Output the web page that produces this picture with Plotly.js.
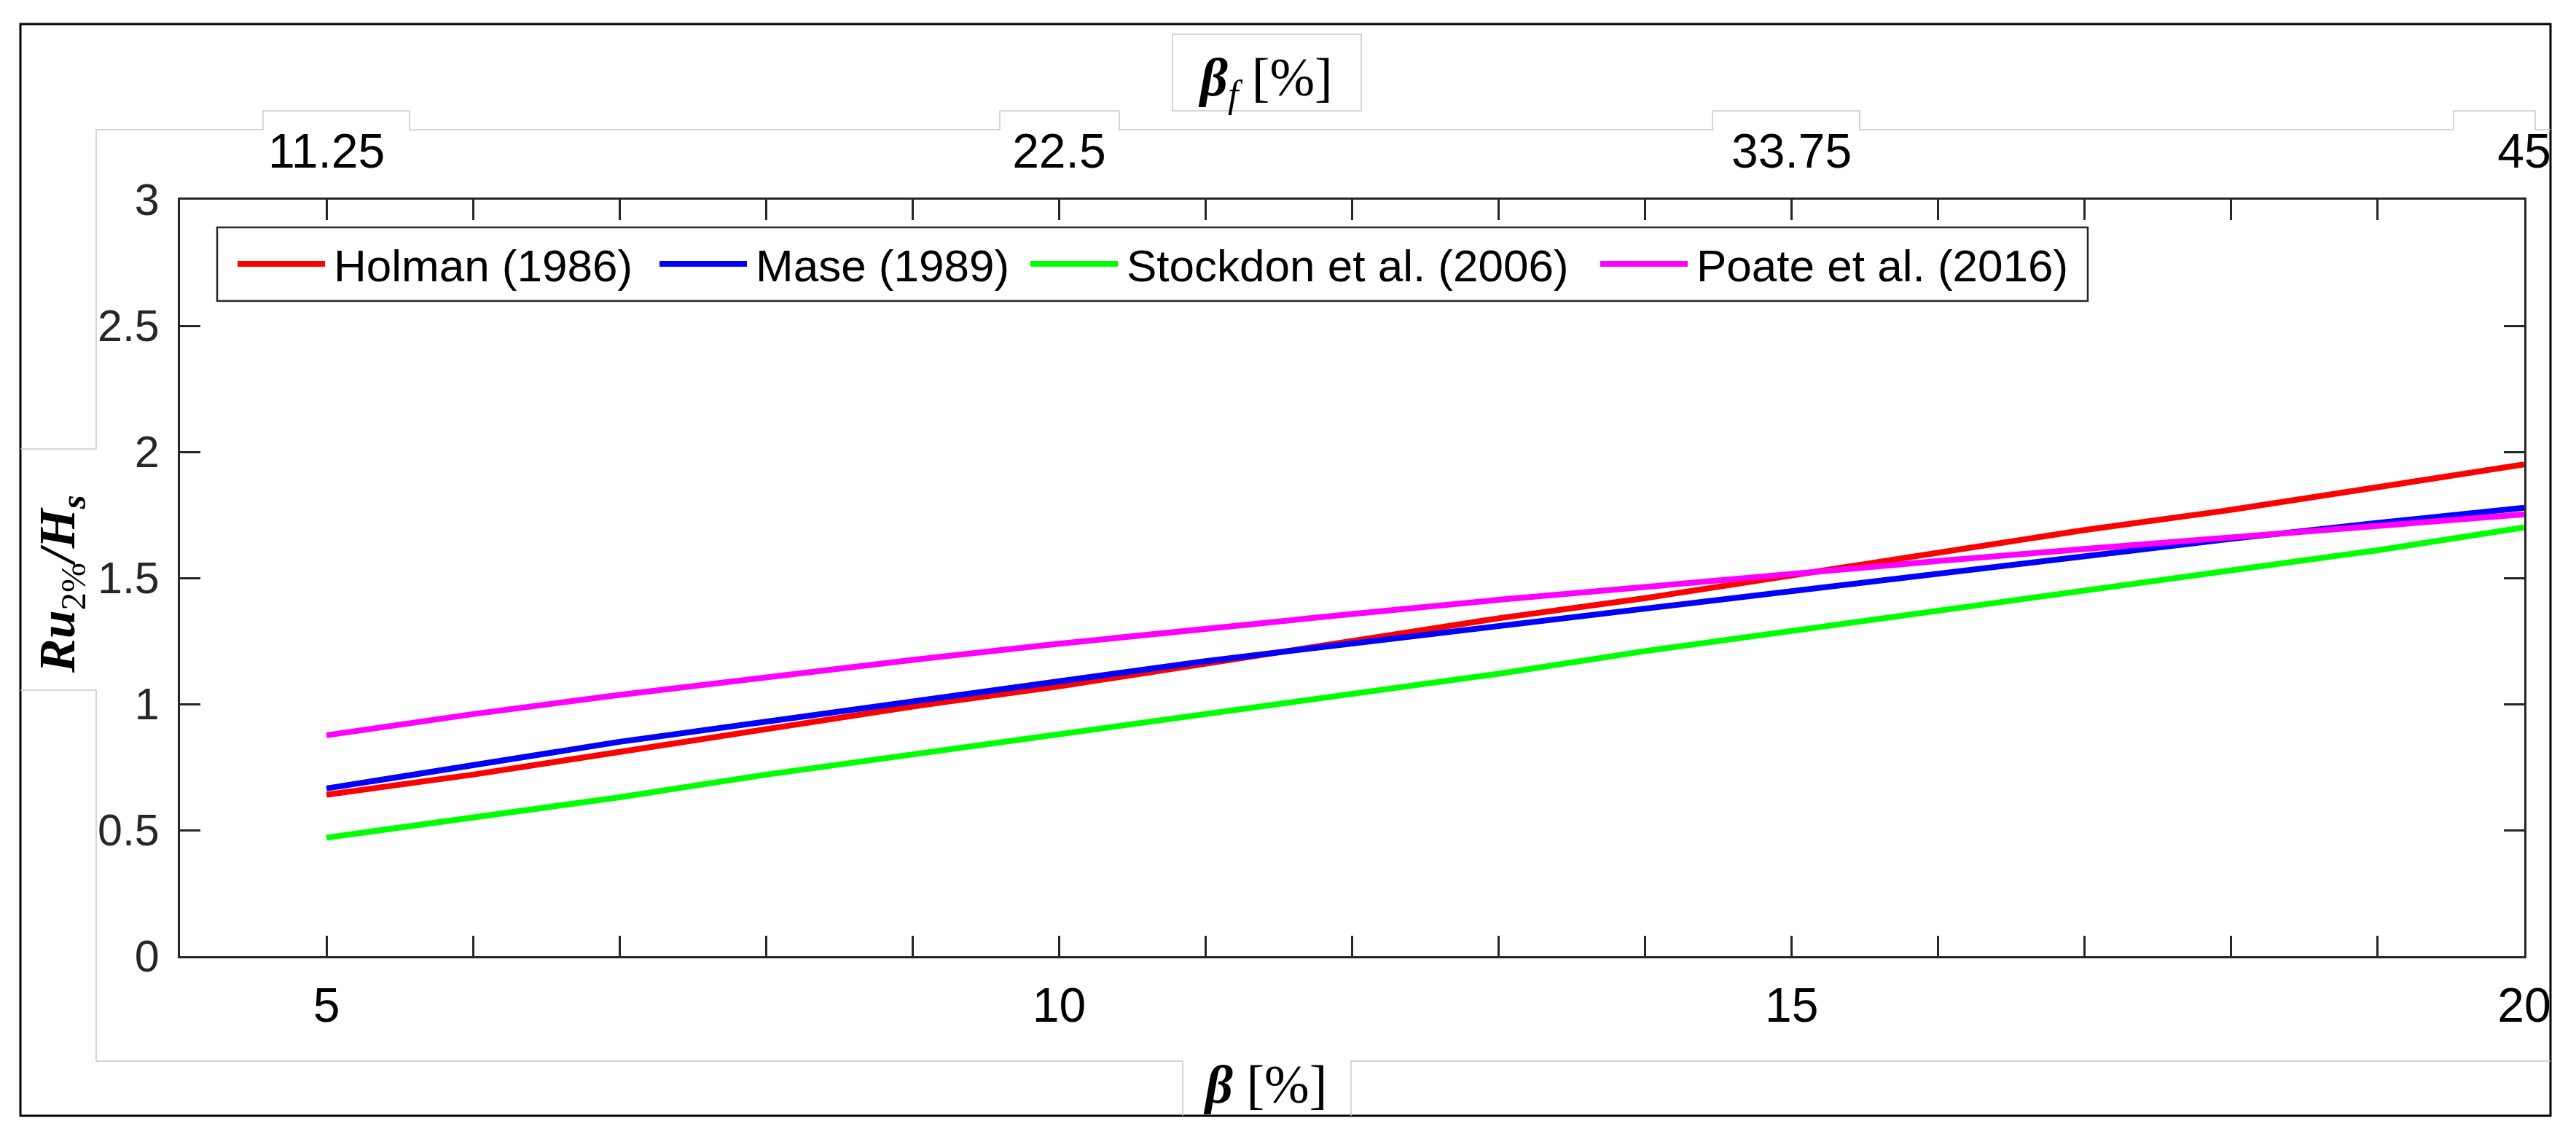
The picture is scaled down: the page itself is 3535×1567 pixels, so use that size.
<!DOCTYPE html>
<html>
<head>
<meta charset="utf-8">
<script src="https://cdn.plot.ly/plotly-3.0.1.min.js"></script>
<style>html,body{margin:0;padding:0;background:#fff}#chart{width:3535px;height:1567px}</style>
</head>
<body>
<div id="chart"></div>
<script>
// beach slope beta [%] (bottom axis) and relative run-up Ru2%/Hs for each formula
const beta     = [5, 6, 7, 8, 9, 10, 11, 12, 13, 14, 15, 16, 17, 18, 19, 20];
const holman   = [0.64, 0.72, 0.81, 0.90, 0.99, 1.07, 1.16, 1.25, 1.34, 1.42, 1.51, 1.60, 1.69, 1.77, 1.86, 1.95];
const mase     = [0.665, 0.76, 0.85, 0.93, 1.01, 1.09, 1.17, 1.24, 1.31, 1.38, 1.45, 1.52, 1.59, 1.655, 1.718, 1.778];
const stockdon = [0.47, 0.55, 0.63, 0.72, 0.80, 0.88, 0.96, 1.04, 1.12, 1.21, 1.29, 1.37, 1.45, 1.53, 1.61, 1.70];
const poate    = [0.876, 0.96, 1.036, 1.108, 1.175, 1.239, 1.30, 1.357, 1.413, 1.466, 1.517, 1.567, 1.615, 1.662, 1.708, 1.752];

const seriesNames  = ["Holman (1986)", "Mase (1989)", "Stockdon et al. (2006)", "Poate et al. (2016)"];
const seriesValues = [holman, mase, stockdon, poate];
const seriesColors = ["#ff0000", "#0000ff", "#00ff00", "#ff00ff"];

const xTickVals = [5, 10, 15, 20];
const xTickText = ["5", "10", "15", "20"];
const betaFTickVals = [11.25, 22.5, 33.75, 45];
const betaFTickText = ["11.25", "22.5", "33.75", "45"];

// figure geometry (px)
const W = 3535, H = 1567;
const M = {l: 247, r: 71, t: 274, b: 255};
const PW = W - M.l - M.r, PH = H - M.t - M.b;
const px = x => (x - M.l) / PW;
const py = y => (H - M.b - y) / PH;
const path = pts => pts.map((p, i) => (i ? "L" : "M") + px(p[0]).toFixed(5) + "," + py(p[1]).toFixed(5)).join(" ");

const traces = seriesValues.map((v, i) => ({
  x: beta, y: v, type: "scatter", mode: "lines", name: seriesNames[i],
  line: {color: seriesColors[i], width: 8}, xaxis: "x", yaxis: "y"
}));
// empty trace so the top beta_f axis gets drawn
traces.push({x: [], y: [], xaxis: "x2", yaxis: "y", showlegend: false, hoverinfo: "skip"});

const axisCol = "#262626";
const sans = "Liberation Sans, Arial, sans-serif";
const tickFont = {family: sans, size: 66, color: "#000"};

// hand-made legend (MATLAB style: long line samples)
const legSample = [326, 905, 1414, 2196];
const shapes = [
  {type: "rect", xref: "paper", yref: "paper", x0: px(28), x1: px(3500), y0: py(1531), y1: py(33),
   line: {color: "#000", width: 3}},
  {type: "path", xref: "paper", yref: "paper", line: {color: "#c9c9c9", width: 1.5},
   path: path([[28,616],[132,616],[132,178],[361,178],[361,152],[562,152],[562,178],[1372,178],[1372,152],
               [1536,152],[1536,178],[2350,178],[2350,152],[2552,152],[2552,178],[3367,178],[3367,152],
               [3479,152],[3479,178],[3500,178]])},
  {type: "path", xref: "paper", yref: "paper", line: {color: "#c9c9c9", width: 1.5},
   path: path([[28,947],[132,947],[132,1456],[1623,1456],[1623,1531]])},
  {type: "path", xref: "paper", yref: "paper", line: {color: "#c9c9c9", width: 1.5},
   path: path([[1854,1531],[1854,1456],[3500,1456]])},
  {type: "rect", xref: "paper", yref: "paper", x0: px(1609), x1: px(1868), y0: py(152), y1: py(47),
   line: {color: "#c9c9c9", width: 1.5}},
  {type: "rect", xref: "paper", yref: "paper", x0: px(298), x1: px(2865), y0: py(413), y1: py(312),
   fillcolor: "#fff", line: {color: axisCol, width: 2.5}}
];
const annotations = [];
seriesNames.forEach((n, i) => {
  shapes.push({type: "line", xref: "paper", yref: "paper", x0: px(legSample[i]), x1: px(legSample[i] + 120),
               y0: py(362), y1: py(362), line: {color: seriesColors[i], width: 8}});
  annotations.push({xref: "paper", yref: "paper", x: px(legSample[i] + 130), y: py(364), xanchor: "left", yanchor: "middle",
                    text: n, showarrow: false, font: {family: sans, size: 62, color: "#000"}});
});
const serif = "Liberation Serif, Times New Roman, serif";
annotations.push(
  {xref: "paper", yref: "paper", x: px(1736), y: py(112), xanchor: "center", yanchor: "middle", showarrow: false,
   text: "<b><i>β</i></b><sub><i>f</i></sub> [%]", font: {family: serif, size: 74, color: "#000"}},
  {xref: "paper", yref: "paper", x: px(1736), y: py(1488), xanchor: "center", yanchor: "middle", showarrow: false,
   text: "<b><i>β</i></b> [%]", font: {family: serif, size: 74, color: "#000"}},
  {xref: "paper", yref: "paper", x: px(84), y: py(802), xanchor: "center", yanchor: "middle", showarrow: false, textangle: -90,
   text: "<b><i>Ru</i></b><sub>2%</sub><b><i>/H</i></b><sub><b><i>s</i></b></sub>", font: {family: serif, size: 70, color: "#000"}}
);

const layout = {
  width: W, height: H, margin: M, showlegend: false,
  paper_bgcolor: "#fff", plot_bgcolor: "#fff",
  xaxis: {range: [4, 20], tickvals: xTickVals, ticktext: xTickText, ticks: "inside", ticklen: 28, tickwidth: 3,
          tickcolor: axisCol, showline: true, linecolor: axisCol, linewidth: 3, mirror: "ticks",
          minor: {tick0: 5, dtick: 1, ticks: "inside", ticklen: 28, tickwidth: 3, tickcolor: axisCol},
          showgrid: false, zeroline: false, tickfont: tickFont, ticklabelstandoff: 8},
  xaxis2: {overlaying: "x", side: "top", anchor: "y", range: [4 * 2.25, 20 * 2.25],
           tickvals: betaFTickVals, ticktext: betaFTickText, ticks: "", showline: false,
           showgrid: false, zeroline: false, tickfont: tickFont, ticklabelstandoff: 30},
  yaxis: {range: [0, 3], dtick: 0.5, ticks: "inside", ticklen: 28, tickwidth: 3, tickcolor: axisCol,
          showline: true, linecolor: axisCol, linewidth: 3, mirror: "ticks", showgrid: false, zeroline: false,
          tickfont: {family: sans, size: 61, color: axisCol}, ticklabelstandoff: 13},
  shapes, annotations
};

Plotly.newPlot("chart", traces, layout, {displayModeBar: false, staticPlot: true});
</script>
</body>
</html>
